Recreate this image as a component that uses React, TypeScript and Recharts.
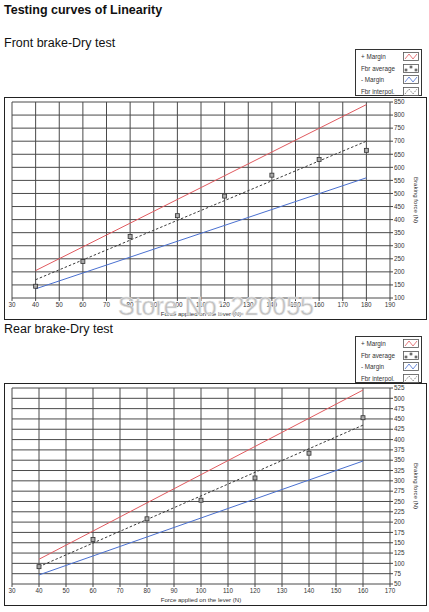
import React from "react";
import { ComposedChart, Line, Scatter, XAxis, YAxis, CartesianGrid } from "recharts";

const FONT = "'Liberation Sans', Arial, sans-serif";

// ─── Front brake data ─────────────────────────────────────────────────────────
const frontXTicks = [30, 40, 50, 60, 70, 80, 90, 100, 110, 120, 130, 140, 150, 160, 170, 180, 190];
const frontYTicks = [100, 150, 200, 250, 300, 350, 400, 450, 500, 550, 600, 650, 700, 750, 800, 850];
const frontForce = [40, 60, 80, 100, 120, 140, 160, 180];
const frontAverage = [145, 240, 335, 415, 490, 570, 630, 665];
const frontLineForce = [40, 180];
const frontPlusMargin = [205, 840];
const frontMinusMargin = [135, 560];
const frontInterpol = [170, 700];

// ─── Rear brake data ──────────────────────────────────────────────────────────
const rearXTicks = [30, 40, 50, 60, 70, 80, 90, 100, 110, 120, 130, 140, 150, 160, 170];
const rearYTicks = [50, 75, 100, 125, 150, 175, 200, 225, 250, 275, 300, 325, 350, 375, 400, 425, 450, 475, 500, 525];
const rearForce = [40, 60, 80, 100, 120, 140, 160];
const rearAverage = [92, 158, 208, 253, 307, 367, 453];
const rearLineForce = [40, 160];
const rearPlusMargin = [110, 520];
const rearMinusMargin = [72, 348];
const rearInterpol = [92, 435];

const legendItems = ["+ Margin", "Fbr average", "- Margin", "Fbr interpol."];

const toPoints = (xs: number[], ys: number[]) => xs.map((x, i) => ({ x, y: ys[i] }));

function SquareDot(props: any) {
  const { cx, cy } = props;
  if (cx == null || cy == null) return null;
  return <rect x={cx - 2} y={cy - 2} width={4} height={4} fill="#a8a8a8" stroke="#333" strokeWidth={0.8} />;
}

function XLabel({ viewBox }: any) {
  const x = viewBox.x + viewBox.width / 2;
  return (
    <text x={x} y={viewBox.y + 17.5} textAnchor="middle" fontSize={6.1} fill="#333" fontFamily={FONT}>
      Force applied on the lever (N)
    </text>
  );
}

function YLabel({ viewBox }: any) {
  const x = viewBox.x + 26;
  const y = viewBox.y + viewBox.height / 2;
  return (
    <text
      x={x}
      y={y}
      transform={`rotate(90 ${x} ${y})`}
      textAnchor="middle"
      dominantBaseline="central"
      fontSize={6.1}
      fill="#333"
      fontFamily={FONT}
    >
      Braking force (N)
    </text>
  );
}

// ─── Legend box ───────────────────────────────────────────────────────────────
function LegendIcon({ kind }: { kind: number }) {
  return (
    <svg width={16} height={9} style={{ display: "block" }}>
      <rect x={0.5} y={0.5} width={15} height={8} fill="#fff" stroke="#555" strokeWidth={0.8} />
      {kind === 0 && <polyline points="2,7 6,2 10,7 14,2" fill="none" stroke="#e05a5f" strokeWidth={0.8} />}
      {kind === 1 && (
        <g fill="#999" stroke="#333" strokeWidth={0.5}>
          <rect x={2} y={5} width={2} height={2} />
          <rect x={7} y={2} width={2} height={2} />
          <rect x={12} y={5} width={2} height={2} />
        </g>
      )}
      {kind === 2 && <polyline points="2,7 6,2 10,7 14,2" fill="none" stroke="#4a70d0" strokeWidth={0.8} />}
      {kind === 3 && (
        <polyline points="2,7 6,2 10,7 14,2" fill="none" stroke="#444" strokeWidth={0.8} strokeDasharray="1 1.2" />
      )}
    </svg>
  );
}

function LegendBox({ left, top }: { left: number; top: number }) {
  return (
    <div
      style={{
        position: "absolute",
        left,
        top,
        width: 67,
        height: 47,
        boxSizing: "border-box",
        border: "1px solid #333",
        background: "#fff",
        fontFamily: FONT,
        fontSize: 6.3,
        color: "#333",
      }}
    >
      {legendItems.map((name, i) => (
        <div key={name} style={{ position: "absolute", left: 0, top: 1 + i * 11.7, width: 65, height: 11 }}>
          <span style={{ position: "absolute", left: 5, top: 0, lineHeight: "11px", whiteSpace: "nowrap" }}>{name}</span>
          <span style={{ position: "absolute", left: 47, top: 1 }}>
            <LegendIcon kind={i} />
          </span>
        </div>
      ))}
    </div>
  );
}

// ─── Chart ────────────────────────────────────────────────────────────────────
interface LinearityChartProps {
  left: number;
  top: number;
  height: number;
  plotTop: number;
  xTicks: number[];
  yTicks: number[];
  force: number[];
  average: number[];
  lineForce: number[];
  plus: number[];
  minus: number[];
  interpol: number[];
}

function LinearityChart(p: LinearityChartProps) {
  const width = 423;
  const tickStyle = { fontSize: 6.3, fill: "#333", fontFamily: FONT };
  return (
    <div style={{ position: "absolute", left: p.left, top: p.top, width, height: p.height, background: "#fff" }}>
      <ComposedChart width={width} height={p.height} margin={{ top: p.plotTop, right: 0, bottom: 0, left: 8 }}>
        <CartesianGrid stroke="#4a4a4a" strokeWidth={1} />
        <XAxis
          type="number"
          dataKey="x"
          domain={[p.xTicks[0], p.xTicks[p.xTicks.length - 1]]}
          ticks={p.xTicks}
          interval={0}
          height={22}
          axisLine={false}
          tickSize={3}
          tickMargin={2}
          tickLine={{ stroke: "#444" }}
          tick={tickStyle}
          allowDataOverflow
          label={<XLabel />}
        />
        <YAxis
          type="number"
          dataKey="y"
          orientation="right"
          domain={[p.yTicks[0], p.yTicks[p.yTicks.length - 1]]}
          ticks={p.yTicks}
          interval={0}
          width={37}
          axisLine={false}
          tickSize={3}
          tickMargin={1}
          tickLine={{ stroke: "#444" }}
          tick={tickStyle}
          allowDataOverflow
          label={<YLabel />}
        />
        <Line
          data={toPoints(p.lineForce, p.plus)}
          dataKey="y"
          stroke="#e05a5f"
          strokeWidth={1}
          dot={false}
          isAnimationActive={false}
        />
        <Line
          data={toPoints(p.lineForce, p.minus)}
          dataKey="y"
          stroke="#4a70d0"
          strokeWidth={1}
          dot={false}
          isAnimationActive={false}
        />
        <Line
          data={toPoints(p.lineForce, p.interpol)}
          dataKey="y"
          stroke="#3a3a3a"
          strokeWidth={1}
          strokeDasharray="2.5 2"
          dot={false}
          isAnimationActive={false}
        />
        <Scatter data={toPoints(p.force, p.average)} dataKey="y" shape={<SquareDot />} isAnimationActive={false} />
      </ComposedChart>
      <div
        style={{
          position: "absolute",
          inset: 0,
          border: "1.5px solid #222",
          boxSizing: "border-box",
          pointerEvents: "none",
        }}
      />
    </div>
  );
}

export default function App() {
  return (
    <div style={{ position: "absolute", left: 0, top: 0, width: 429, height: 612, background: "#fff", overflow: "hidden" }}>
      <LegendBox left={355} top={49} />
      <LinearityChart
        left={4}
        top={97}
        height={223}
        plotTop={5}
        xTicks={frontXTicks}
        yTicks={frontYTicks}
        force={frontForce}
        average={frontAverage}
        lineForce={frontLineForce}
        plus={frontPlusMargin}
        minus={frontMinusMargin}
        interpol={frontInterpol}
      />
      <LegendBox left={355} top={336} />
      <LinearityChart
        left={4}
        top={383}
        height={223}
        plotTop={5}
        xTicks={rearXTicks}
        yTicks={rearYTicks}
        force={rearForce}
        average={rearAverage}
        lineForce={rearLineForce}
        plus={rearPlusMargin}
        minus={rearMinusMargin}
        interpol={rearInterpol}
      />
      <svg
        width={429}
        height={612}
        style={{ position: "absolute", left: 0, top: 0, pointerEvents: "none" }}
        fontFamily={FONT}
      >
        <text x={4} y={14} fontSize={12.5} fontWeight="bold" fill="#111">
          Testing curves of Linearity
        </text>
        <text x={4} y={47} fontSize={12.5} fill="#111">
          Front brake-Dry test
        </text>
        <text x={4} y={333} fontSize={12.5} fill="#111">
          Rear brake-Dry test
        </text>
        <text x={118} y={315} fontSize={25} fill="#bdbdbd" stroke="#e6e6e6" strokeWidth={0.6}>
          Store No: 220055
        </text>
      </svg>
    </div>
  );
}
